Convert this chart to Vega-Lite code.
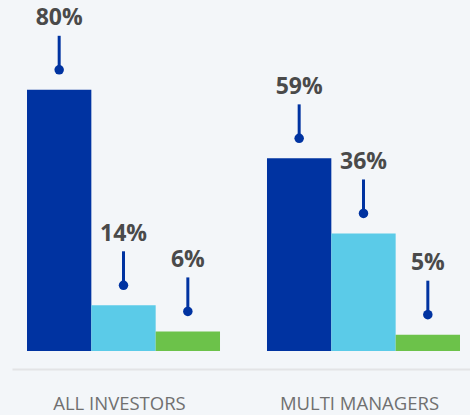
{
  "$schema": "https://vega.github.io/schema/vega-lite/v6.json",
  "width": 458,
  "height": 369,
  "autosize": {"type": "none"},
  "padding": {"left": 12, "top": 0, "right": 0, "bottom": 46},
  "background": "#f3f6f9",
  "config": {"view": {"stroke": null}},
  "data": {
    "values": [
      {"group": "ALL INVESTORS", "series": "s1", "value": 80, "label": "80%"},
      {"group": "ALL INVESTORS", "series": "s2", "value": 14, "label": "14%"},
      {"group": "ALL INVESTORS", "series": "s3", "value": 6, "label": "6%"},
      {"group": "MULTI MANAGERS", "series": "s1", "value": 59, "label": "59%"},
      {"group": "MULTI MANAGERS", "series": "s2", "value": 36, "label": "36%"},
      {"group": "MULTI MANAGERS", "series": "s3", "value": 5, "label": "5%"}
    ]
  },
  "encoding": {
    "x": {
      "field": "group",
      "type": "nominal",
      "sort": null,
      "title": null,
      "scale": {"paddingInner": 0.1958, "paddingOuter": 0.0521, "align": 0.6},
      "axis": {
        "labelAngle": 0,
        "ticks": false,
        "tickSize": 0,
        "labelPadding": 40,
        "labelOffset": -4,
        "labelBaseline": "alphabetic",
        "labelFont": "Open Sans",
        "labelFontSize": 18.5,
        "labelColor": "#707070",
        "domainColor": "#e3e4e6",
        "domainWidth": 2,
        "grid": false
      }
    },
    "xOffset": {
      "field": "series",
      "type": "nominal",
      "sort": null,
      "scale": {"paddingInner": 0, "paddingOuter": 0}
    }
  },
  "layer": [
    {
      "mark": {"type": "bar"},
      "encoding": {
        "y": {"field": "value", "type": "quantitative", "scale": {"domain": [-5.51, 107.5], "nice": false, "zero": false}, "axis": null},
        "y2": {"datum": 0},
        "color": {
          "field": "series",
          "type": "nominal",
          "sort": null,
          "scale": {"domain": ["s1", "s2", "s3"], "range": ["#0033a1", "#5bcbe8", "#6cc24a"]},
          "legend": null
        }
      }
    },
    {
      "mark": {"type": "rule", "color": "#0033a1", "strokeWidth": 3, "yOffset": -20, "y2Offset": -54},
      "encoding": {
        "y": {"field": "value", "type": "quantitative"},
        "y2": {"field": "value"}
      }
    },
    {
      "mark": {"type": "point", "filled": true, "opacity": 1, "color": "#0033a1", "size": 90, "yOffset": -20},
      "encoding": {
        "y": {"field": "value", "type": "quantitative"}
      }
    },
    {
      "mark": {"type": "text", "font": "Open Sans", "fontWeight": "bold", "fontSize": 23, "color": "#4a4a4a", "baseline": "alphabetic", "yOffset": -64.5},
      "encoding": {
        "y": {"field": "value", "type": "quantitative"},
        "text": {"field": "label"}
      }
    }
  ]
}
